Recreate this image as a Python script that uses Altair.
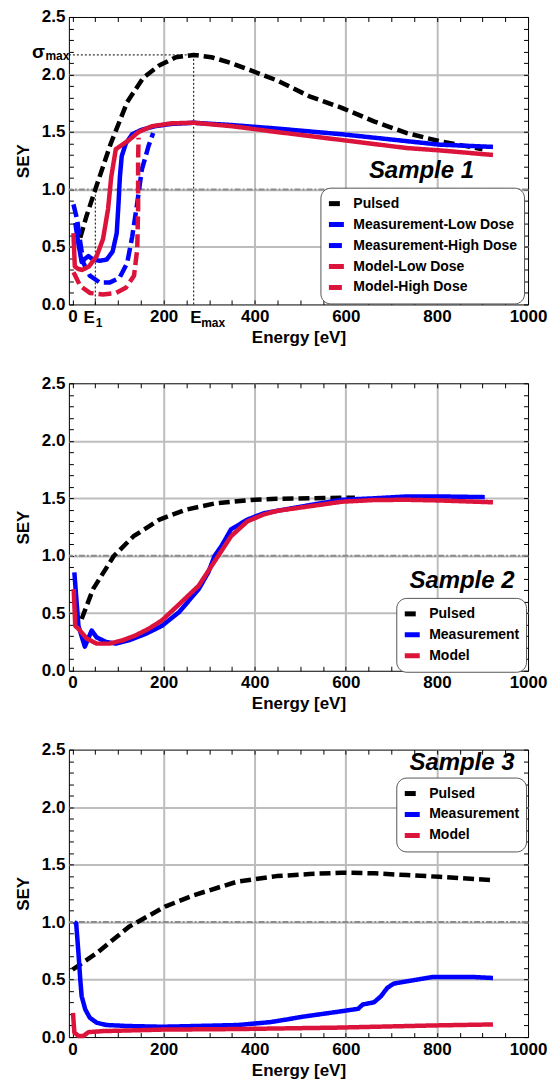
import altair as alt
import pandas as pd

# ---------------- axis ranges / reference values ----------------
X_MIN, X_MAX = -8, 1000
Y_MIN, Y_MAX = 0.0, 2.5
UNITY = 1.0
E1 = 50
E_MAX = 266
SIGMA_MAX = 2.17

X_MAJOR = [0, 200, 400, 600, 800, 1000]
X_GRID = [200, 400, 600, 800]
X_MINOR = list(range(0, 1001, 50))
Y_MAJOR = [0.0, 0.5, 1.0, 1.5, 2.0, 2.5]
Y_GRID = [0.5, 1.0, 1.5, 2.0]
Y_MINOR = [round(0.1 * i, 1) for i in range(26)]

# ---------------- Sample 1 ----------------
s1_pulsed_E = [17, 30, 50, 84, 120, 155, 191, 227, 266, 305, 348, 448, 520, 591, 663, 734, 805, 900]
s1_pulsed_Y = [0.58, 0.76, 1.00, 1.40, 1.76, 1.97, 2.08, 2.15, 2.17, 2.15, 2.10, 1.95, 1.81, 1.71, 1.59, 1.49, 1.42, 1.35]
s1_measlow_E = [6, 12, 20, 28, 35, 45, 60, 75, 88, 97, 101, 104, 108, 117, 131, 152, 181, 217, 266, 350, 448, 591, 734, 805, 923]
s1_measlow_Y = [0.71, 0.55, 0.37, 0.40, 0.42, 0.39, 0.38, 0.39, 0.46, 0.62, 0.88, 1.11, 1.29, 1.40, 1.48, 1.52, 1.55, 1.57, 1.58, 1.56, 1.53, 1.48, 1.42, 1.39, 1.37]
s1_meashigh_E = [2, 10, 17, 24, 38, 60, 81, 103, 120, 131, 142, 152, 167, 177]
s1_meashigh_Y = [0.87, 0.74, 0.54, 0.36, 0.25, 0.19, 0.19, 0.23, 0.36, 0.59, 0.88, 1.17, 1.38, 1.49]
s1_modlow_E = [2, 5, 12, 21, 36, 53, 67, 78, 85, 95, 124, 145, 174, 217, 266, 350, 448, 591, 734, 805, 923]
s1_modlow_Y = [0.62, 0.33, 0.31, 0.30, 0.33, 0.42, 0.57, 0.83, 1.11, 1.35, 1.43, 1.50, 1.55, 1.575, 1.58, 1.55, 1.50, 1.43, 1.36, 1.34, 1.30]
s1_modhigh_E = [2, 6, 17, 38, 67, 95, 117, 135, 142, 144, 144, 145]
s1_modhigh_Y = [0.28, 0.25, 0.16, 0.10, 0.087, 0.10, 0.145, 0.25, 0.48, 0.83, 1.26, 1.45]

# ---------------- Sample 2 ----------------
s2_pulsed_E = [20, 45, 91, 134, 191, 248, 312, 391, 448, 520, 591, 620]
s2_pulsed_Y = [0.45, 0.71, 1.00, 1.17, 1.315, 1.40, 1.455, 1.485, 1.495, 1.50, 1.505, 1.505]
s2_meas_E = [4, 13, 27, 42, 53, 74, 95, 124, 160, 196, 234, 277, 298, 312, 327, 348, 384, 420, 448, 520, 591, 663, 734, 805, 905]
s2_meas_Y = [0.855, 0.39, 0.21, 0.35, 0.29, 0.25, 0.236, 0.265, 0.32, 0.39, 0.51, 0.71, 0.855, 1.00, 1.085, 1.23, 1.315, 1.37, 1.39, 1.44, 1.487, 1.50, 1.516, 1.516, 1.51]
s2_model_E = [2.6, 6, 13, 31, 53, 81, 110, 138, 167, 196, 231, 277, 305, 320, 348, 384, 420, 448, 520, 591, 663, 734, 805, 923]
s2_model_Y = [0.71, 0.39, 0.365, 0.28, 0.236, 0.236, 0.265, 0.307, 0.365, 0.437, 0.567, 0.74, 0.91, 1.00, 1.17, 1.30, 1.36, 1.39, 1.43, 1.47, 1.485, 1.487, 1.481, 1.465]

# ---------------- Sample 3 ----------------
s3_pulsed_E = [0, 53, 124, 203, 267, 360, 448, 520, 591, 663, 734, 805, 919]
s3_pulsed_Y = [0.586, 0.73, 0.96, 1.134, 1.235, 1.35, 1.40, 1.418, 1.43, 1.424, 1.409, 1.394, 1.365]
s3_meas_E = [4, 8, 13, 17, 20, 28, 38, 53, 74, 124, 196, 267, 363, 434, 470, 505, 541, 577, 627, 637, 662, 677, 691, 705, 734, 791, 841, 877, 923]
s3_meas_Y = [1.0, 0.99, 0.73, 0.50, 0.355, 0.24, 0.168, 0.125, 0.105, 0.096, 0.09, 0.096, 0.105, 0.13, 0.153, 0.177, 0.197, 0.217, 0.246, 0.283, 0.303, 0.355, 0.428, 0.465, 0.485, 0.523, 0.523, 0.523, 0.514]
s3_model_E = [1, 4, 13, 24, 35, 67, 196, 363, 577, 791, 923]
s3_model_Y = [0.21, 0.04, 0.01, 0.01, 0.043, 0.052, 0.065, 0.07, 0.082, 0.101, 0.11]

# ---------------- styles ----------------
FONT = "Liberation Sans"
BLACK, BLUE, RED = "#000000", "#0000FF", "#DC143C"
SOLID, PULSE_DASH, DASH = [1, 0], [11, 5], [13, 5]
TICK = 4.5
W, H = 460, 288

xs = alt.Scale(domain=[X_MIN, X_MAX], nice=False, zero=False)
ys = alt.Scale(domain=[Y_MIN, Y_MAX], nice=False, zero=False)


def ax(orient, values, tick=0, labels=False, grid=False, title=None, **kw):
    d = dict(orient=orient, values=values, domain=False, grid=grid, labels=labels,
             ticks=tick > 0, title=title, minExtent=0)
    if tick > 0:
        d.update(tickSize=tick, offset=-tick, tickColor="black", tickWidth=1)
    if grid:
        d.update(gridColor="#BDBDBD", gridWidth=2, gridOpacity=1)
    d.update(kw)
    return alt.Axis(**d)


def carrier(df, xaxis, yaxis):
    return alt.Chart(df).mark_point(opacity=0, size=1).encode(
        x=alt.X("E:Q", scale=xs, axis=xaxis),
        y=alt.Y("SEY:Q", scale=ys, axis=yaxis),
    )


def txt(e, v, s, size, align, dx, dy):
    return alt.Chart(pd.DataFrame({"E": [e], "SEY": [v], "t": [s]})).mark_text(
        font=FONT, fontSize=size, fontWeight="bold", color="black", align=align,
        baseline="middle", dx=dx, dy=dy
    ).encode(x=alt.X("E:Q", scale=xs, axis=None), y=alt.Y("SEY:Q", scale=ys, axis=None), text="t:N")


def panel(series, legend_xy, sample_label, sample_xy, annotate=False):
    rows = []
    for name, Es, Ys, col, dash in series:
        for i, (e, v) in enumerate(zip(Es, Ys)):
            rows.append({"E": e, "SEY": v, "series": name, "order": i})
    df = pd.DataFrame(rows)
    names = [s[0] for s in series]
    colors = [s[3] for s in series]
    dashes = [s[4] for s in series]

    leg = alt.Legend(orient="none", legendX=legend_xy[0], legendY=legend_xy[1], title=None,
                     labelFont=FONT, labelFontSize=14, labelFontWeight="bold", labelColor="black",
                     labelLimit=300, symbolType="stroke", symbolSize=225, symbolStrokeWidth=5,
                     rowPadding=1, labelOffset=7, padding=6, strokeColor="#555555",
                     cornerRadius=10, fillColor="white", zindex=1)

    grid_l = carrier(df, ax("bottom", X_GRID, grid=True), ax("left", Y_GRID, grid=True))
    tick_bl = carrier(df, ax("bottom", X_MINOR, tick=TICK), ax("left", Y_MINOR, tick=TICK))
    tick_tr = carrier(df, ax("top", X_MINOR, tick=TICK), ax("right", Y_MINOR, tick=TICK))

    unity = alt.Chart(pd.DataFrame({"SEY": [UNITY]})).mark_rule(
        color="#8C8C8C", strokeWidth=2, strokeDash=[6, 2, 2, 2]
    ).encode(y=alt.Y("SEY:Q", scale=ys, axis=None))

    lines = alt.Chart(df).mark_line(strokeWidth=4.5, strokeCap="butt", strokeJoin="round").encode(
        x=alt.X("E:Q", scale=xs,
                axis=ax("bottom", X_MAJOR, labels=True, title="Energy [eV]", format="d",
                        labelFlush=False, labelOverlap=False, labelPadding=4, titlePadding=5)),
        y=alt.Y("SEY:Q", scale=ys,
                axis=ax("left", Y_MAJOR, labels=True, title="SEY", format=".1f",
                        labelOverlap=False, labelPadding=4, titlePadding=9)),
        color=alt.Color("series:N", scale=alt.Scale(domain=names, range=colors), legend=leg),
        strokeDash=alt.StrokeDash("series:N", scale=alt.Scale(domain=names, range=dashes), legend=leg),
        order=alt.Order("order:Q"),
    )

    sample = alt.Chart(pd.DataFrame({"E": [sample_xy[0]], "SEY": [sample_xy[1]], "t": [sample_label]})).mark_text(
        font=FONT, fontSize=24, fontWeight="bold", fontStyle="italic", color="black", baseline="middle"
    ).encode(x=alt.X("E:Q", scale=xs, axis=None), y=alt.Y("SEY:Q", scale=ys, axis=None), text="t:N")

    layers = [grid_l, tick_bl, tick_tr, unity]
    if annotate:
        seg = pd.DataFrame({
            "E": [X_MIN, E_MAX, E1],
            "E2": [E_MAX, E_MAX, E1],
            "SEY": [SIGMA_MAX, Y_MIN, Y_MIN],
            "SEY2": [SIGMA_MAX, SIGMA_MAX, UNITY],
        })
        dotted = alt.Chart(seg).mark_rule(color="black", strokeWidth=1, strokeDash=[2, 2]).encode(
            x=alt.X("E:Q", scale=xs, axis=None), x2="E2:Q",
            y=alt.Y("SEY:Q", scale=ys, axis=None), y2="SEY2:Q")
        layers.append(dotted)
        layers += [
            txt(X_MIN, SIGMA_MAX, "σ", 19, "right", -24, -3),
            txt(X_MIN, SIGMA_MAX, "max", 12, "left", -23.5, 1),
            txt(E1, Y_MIN, "E", 17, "right", -0.5, 14),
            txt(E1, Y_MIN, "1", 12, "left", 0.5, 19),
            txt(E_MAX, Y_MIN, "E", 17, "left", -3.5, 14),
            txt(E_MAX, Y_MIN, "max", 12, "left", 7.5, 19),
        ]
    layers += [lines, sample]
    return alt.layer(*layers).resolve_axis(x="independent", y="independent").properties(
        width=W, height=H)


p1 = panel([
    ("Pulsed", s1_pulsed_E, s1_pulsed_Y, BLACK, PULSE_DASH),
    ("Measurement-Low Dose", s1_measlow_E, s1_measlow_Y, BLUE, SOLID),
    ("Measurement-High Dose", s1_meashigh_E, s1_meashigh_Y, BLUE, DASH),
    ("Model-Low Dose", s1_modlow_E, s1_modlow_Y, RED, SOLID),
    ("Model-High Dose", s1_modhigh_E, s1_modhigh_Y, RED, DASH),
], (252, 171), "Sample 1", (766, 1.157), annotate=True)

p2 = panel([
    ("Pulsed", s2_pulsed_E, s2_pulsed_Y, BLACK, PULSE_DASH),
    ("Measurement", s2_meas_E, s2_meas_Y, BLUE, SOLID),
    ("Model", s2_model_E, s2_model_Y, RED, SOLID),
], (328, 215), "Sample 2", (855, 0.78))

p3 = panel([
    ("Pulsed", s3_pulsed_E, s3_pulsed_Y, BLACK, PULSE_DASH),
    ("Measurement", s3_meas_E, s3_meas_Y, BLUE, SOLID),
    ("Model", s3_model_E, s3_model_Y, RED, SOLID),
], (328, 28), "Sample 3", (855, 2.38))

chart = alt.vconcat(p1, p2, p3, spacing=27,
                    padding={"left": 5, "top": -2, "right": 0, "bottom": 0}).resolve_scale(
    x="independent", y="independent", color="independent", strokeDash="independent"
).resolve_axis(x="independent", y="independent").resolve_legend(
    color="independent", strokeDash="independent"
).configure_view(stroke="black", strokeWidth=1).configure_axis(
    labelFont=FONT, labelFontSize=17, labelFontWeight="bold", labelColor="black",
    titleFont=FONT, titleFontSize=17, titleFontWeight="bold", titleColor="black"
)

chart.save("out.html", embed_options={"renderer": "svg", "actions": False})
